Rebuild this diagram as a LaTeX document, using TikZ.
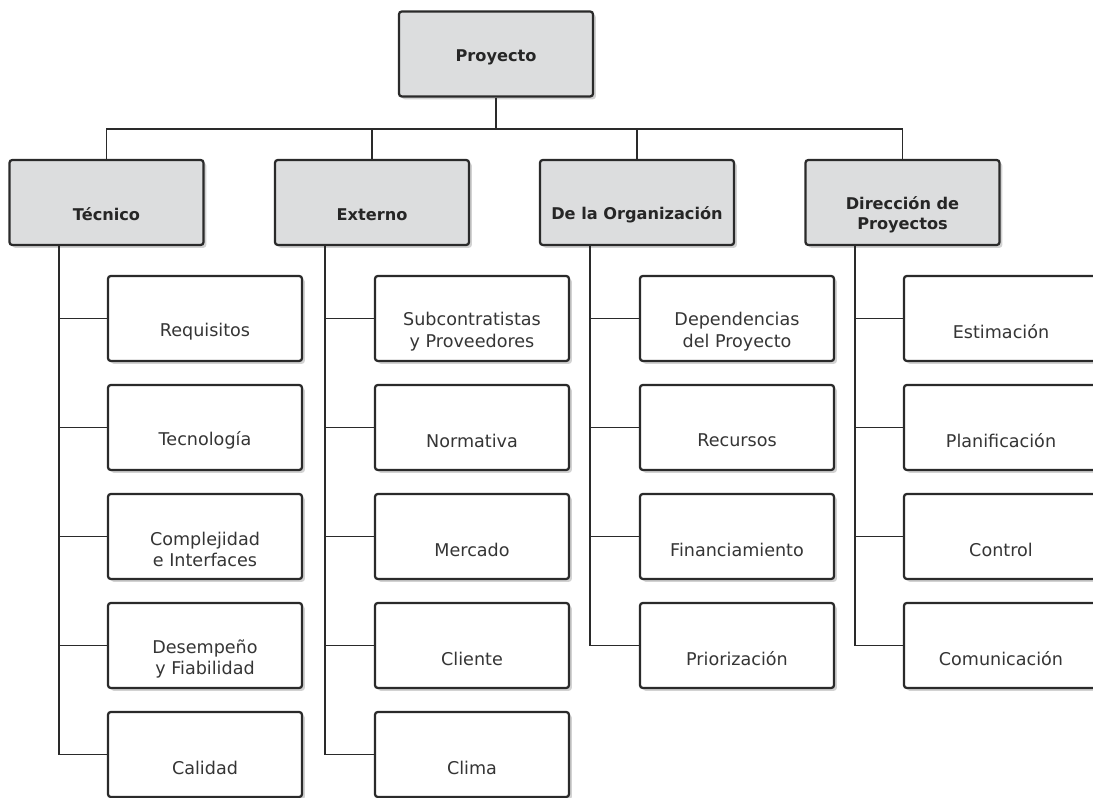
\documentclass[tikz,border=0pt]{standalone}
\usepackage{fontspec}
\setmainfont{DejaVu Sans}
\usepackage{tikz}
\usetikzlibrary{shadows}
\definecolor{boxgray}{HTML}{DCDDDE}
\definecolor{linegray}{HTML}{2A2A2A}
\definecolor{txtgray}{HTML}{353535}

\begin{document}
\begin{tikzpicture}[scale=1,
    box/.style={draw=linegray, line width=1.6pt, rounded corners=2pt,
      minimum width=4.85cm, minimum height=2.125cm, inner sep=0pt,
      drop shadow={shadow xshift=2pt, shadow yshift=-2pt, fill=gray!70, opacity=0.5}},
    head/.style={box, fill=boxgray},
    sub/.style={box, fill=white},
    btxt/.style={font=\fontsize{11.5}{14}\selectfont\bfseries, text=black!85, align=center},
    htxt/.style={btxt, yshift=-0.3cm},
    stxt/.style={font=\fontsize{12.5}{15}\selectfont, text=txtgray, align=center, yshift=-0.33cm},
    link/.style={draw=linegray, line width=1.3pt}]
      \useasboundingbox (0,0) rectangle (27.325,19.95);
      % root and bus
      \node[head, label={[btxt, yshift=-0.075cm]center:Proyecto}] (P) at (12.4,18.6) {};
      \coordinate (B) at (12.4,16.725);
      \node[head, label={[htxt]center:Técnico}] (T) at (2.6625,14.8875) {};
      \node[head, label={[htxt]center:Externo}] (X) at (9.3,14.8875) {};
      \node[head, label={[htxt]center:De la Organización}] (O) at (15.925,14.8875) {};
      \node[head, label={[htxt]center:Dirección de\\Proyectos}] (D) at (22.5625,14.8875) {};
      \draw[link] (P.south) -- (B);
      \draw[link] (B) -| (T.north);
      \draw[link] (B) -| (X.north);
      \draw[link] (B) -| (O.north);
      \draw[link] (B) -| (D.north);
      % Tecnico
      \node[sub, label={[stxt]center:Requisitos}] (T1) at (5.125,11.9875) {};
      \node[sub, label={[stxt]center:Tecnología}] (T2) at (5.125,9.2625) {};
      \node[sub, label={[stxt]center:Complejidad\\e Interfaces}] (T3) at (5.125,6.5375) {};
      \node[sub, label={[stxt]center:Desempeño\\y Fiabilidad}] (T4) at (5.125,3.8125) {};
      \node[sub, label={[stxt]center:Calidad}] (T5) at (5.125,1.0875) {};
      \draw[link] ([xshift=1.275cm]T.south west) |- (T1.west);
      \draw[link] ([xshift=1.275cm]T.south west) |- (T2.west);
      \draw[link] ([xshift=1.275cm]T.south west) |- (T3.west);
      \draw[link] ([xshift=1.275cm]T.south west) |- (T4.west);
      \draw[link] ([xshift=1.275cm]T.south west) |- (T5.west);
      % Externo
      \node[sub, label={[stxt]center:Subcontratistas\\y Proveedores}] (X1) at (11.8,11.9875) {};
      \node[sub, label={[stxt]center:Normativa}] (X2) at (11.8,9.2625) {};
      \node[sub, label={[stxt]center:Mercado}] (X3) at (11.8,6.5375) {};
      \node[sub, label={[stxt]center:Cliente}] (X4) at (11.8,3.8125) {};
      \node[sub, label={[stxt]center:Clima}] (X5) at (11.8,1.0875) {};
      \draw[link] ([xshift=1.275cm]X.south west) |- (X1.west);
      \draw[link] ([xshift=1.275cm]X.south west) |- (X2.west);
      \draw[link] ([xshift=1.275cm]X.south west) |- (X3.west);
      \draw[link] ([xshift=1.275cm]X.south west) |- (X4.west);
      \draw[link] ([xshift=1.275cm]X.south west) |- (X5.west);
      % De la Organizacion
      \node[sub, label={[stxt]center:Dependencias\\del Proyecto}] (O1) at (18.425,11.9875) {};
      \node[sub, label={[stxt]center:Recursos}] (O2) at (18.425,9.2625) {};
      \node[sub, label={[stxt]center:Financiamiento}] (O3) at (18.425,6.5375) {};
      \node[sub, label={[stxt]center:Priorización}] (O4) at (18.425,3.8125) {};
      \draw[link] ([xshift=1.275cm]O.south west) |- (O1.west);
      \draw[link] ([xshift=1.275cm]O.south west) |- (O2.west);
      \draw[link] ([xshift=1.275cm]O.south west) |- (O3.west);
      \draw[link] ([xshift=1.275cm]O.south west) |- (O4.west);
      % Direccion de Proyectos
      \node[sub, label={[stxt]center:Estimación}] (D1) at (25.025,11.9875) {};
      \node[sub, label={[stxt]center:Planificación}] (D2) at (25.025,9.2625) {};
      \node[sub, label={[stxt]center:Control}] (D3) at (25.025,6.5375) {};
      \node[sub, label={[stxt]center:Comunicación}] (D4) at (25.025,3.8125) {};
      \draw[link] ([xshift=1.275cm]D.south west) |- (D1.west);
      \draw[link] ([xshift=1.275cm]D.south west) |- (D2.west);
      \draw[link] ([xshift=1.275cm]D.south west) |- (D3.west);
      \draw[link] ([xshift=1.275cm]D.south west) |- (D4.west);
    \end{tikzpicture}
\end{document}
